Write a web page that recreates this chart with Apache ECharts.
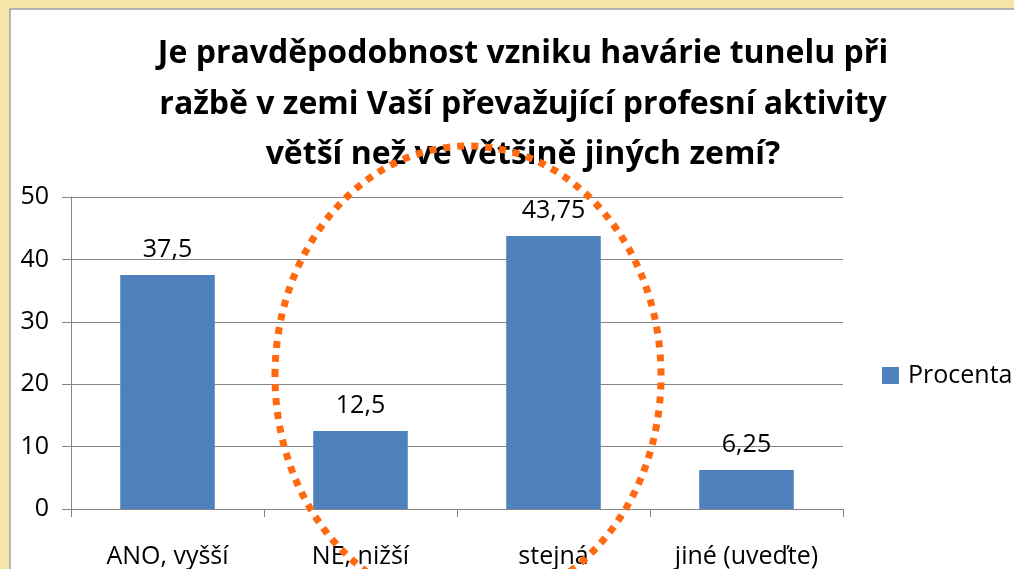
<!DOCTYPE html>
<html><head><meta charset="utf-8">
<script src="https://cdn.jsdelivr.net/npm/echarts@6/dist/echarts.min.js"></script>
<style>html,body{margin:0;padding:0;background:#F6E4A9;}#c{width:1014px;height:569px;}</style>
</head><body><div id="c"></div>
<script>
const titleLines = ['Je pravděpodobnost vzniku havárie tunelu při', 'ražbě v zemi Vaší převažující profesní aktivity', 'větší než ve většině jiných zemí?'];
const categories = ['ANO, vyšší', 'NE, nižší', 'stejná', 'jiné (uveďte)'];
const seriesName = 'Procenta';
const values = [37.5, 12.5, 43.75, 6.25];
const yTicks = [0, 10, 20, 30, 40, 50];

const font = '"Open Sans", "Noto Sans", sans-serif';
const chart = echarts.init(document.getElementById('c'));
chart.setOption({
  backgroundColor: '#F6E4A9',
  animation: false,
  title: {
    text: titleLines.join('\n'),
    left: 518, top: 24, textAlign: 'center',
    textStyle: { fontFamily: font, fontWeight: 'bold', fontSize: 32, lineHeight: 50.5, color: '#000' }
  },
  legend: {
    data: [seriesName], orient: 'vertical', left: 877, top: 358,
    icon: 'rect', itemWidth: 17, itemHeight: 17, itemGap: 8,
    textStyle: { fontFamily: font, fontSize: 25, color: '#000', padding: [0, 0, 0, 4] }
  },
  grid: { left: 71, right: 171, top: 197, bottom: 59, containLabel: false },
  xAxis: {
    type: 'category', data: categories,
    axisLine: { lineStyle: { color: '#868686', width: 1 } },
    axisTick: { show: true, length: 8, lineStyle: { color: '#868686' } },
    axisLabel: { fontFamily: font, fontSize: 25, color: '#000', margin: 35 }
  },
  yAxis: {
    type: 'value', min: 0, max: 50, interval: 10,
    axisLine: { show: true, lineStyle: { color: '#868686' } },
    axisTick: { show: true, length: 9, lineStyle: { color: '#868686' } },
    axisLabel: { fontFamily: font, fontSize: 25, color: '#000', margin: 22,
      formatter: v => yTicks.includes(v) ? String(v) : '' },
    splitLine: { lineStyle: { color: '#868686', width: 1 } }
  },
  series: [{
    name: seriesName, type: 'bar', data: values, barWidth: '49%',
    itemStyle: { color: '#4F81BD' },
    label: { show: true, position: 'top', distance: 13, fontFamily: font, fontSize: 25, color: '#000',
      formatter: p => String(p.value).replace('.', ',') }
  }],
  graphic: [
    { type: 'rect', z: -10, shape: { x: 10, y: 9, width: 1100, height: 700 },
      style: { fill: '#ffffff', stroke: '#A0A0A0', lineWidth: 1.5 } },
    { type: 'ellipse', z: 100, shape: { cx: 468, cy: 376, rx: 193, ry: 230 },
      style: { fill: 'none', stroke: '#FF6A10', lineWidth: 7, lineDash: [7, 7] } }
  ]
});
</script></body></html>
